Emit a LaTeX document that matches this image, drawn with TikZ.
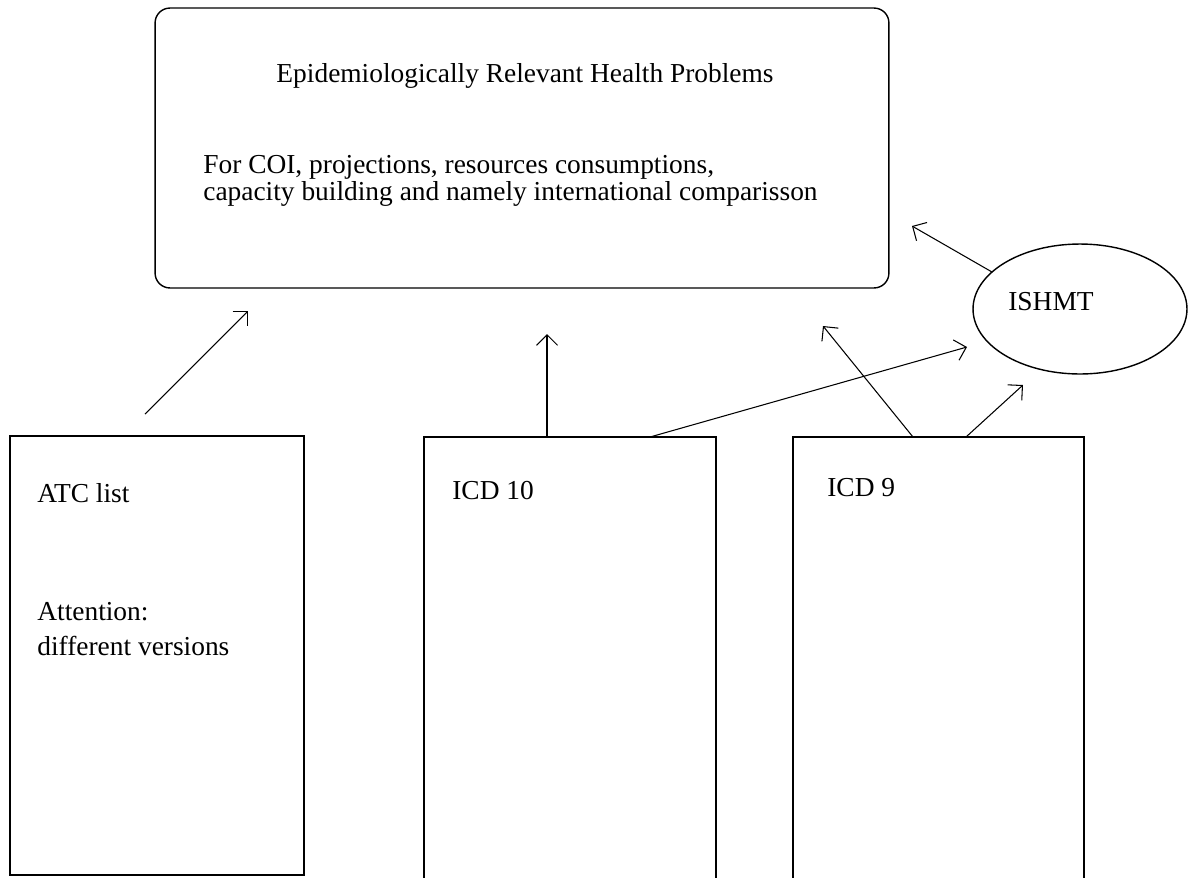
\documentclass[tikz,border=0pt]{standalone}
\usepackage{fontspec}
\setmainfont{Liberation Serif}
\usetikzlibrary{shapes.geometric,arrows.meta}

\begin{document}
\begin{tikzpicture}[x=0.02cm,y=-0.02cm,
  box/.style={draw,line width=0.8pt,inner sep=0pt,outer sep=0pt},
  txt/.style={anchor=base west,inner sep=0pt,font=\fontsize{15.6}{18}\selectfont},
  link/.style={line width=0.6pt,-{Straight Barb[length=6pt,width=12pt]}}]
  \clip (0,0) rectangle (1188,877);

  % Boxes
  \node[box,rounded corners=8.5pt,minimum width=14.68cm,minimum height=5.6cm] (erhp) at (522,148) {};
  \node[box,minimum width=5.88cm,minimum height=8.78cm] (atc) at (157,655.5) {};
  \node[box,minimum width=5.84cm,minimum height=9.26cm] (icdten) at (570,668.5) {};
  \node[box,minimum width=5.82cm,minimum height=9.26cm] (icdnine) at (938.5,668.5) {};
  \node[box,ellipse,minimum width=4.28cm,minimum height=2.6cm] (ishmt) at (1080,309) {};

  % Labels
  \node[txt,anchor=base] (title) at (525,82) {Epidemiologically Relevant Health Problems};
  \node[txt] (purposea) at (203,173) {For COI, projections, resources consumptions,};
  \node[txt] (purposeb) at (203,200) {capacity building and namely international comparisson};
  \node[txt] (atclabel) at (37,502) {ATC list};
  \node[txt] (attna) at (37,620) {Attention:};
  \node[txt] (attnb) at (37,655) {different versions};
  \node[txt] (icdtenlabel) at (452,499) {ICD 10};
  \node[txt] (icdninelabel) at (827,496) {ICD 9};
  \node[txt] (ishmtlabel) at (1008,310) {ISHMT};

  % Arrow ends
  \coordinate (atcup) at (145,414);
  \coordinate (erhpa) at (248,311);
  \coordinate (icdtena) at (547,437);
  \coordinate (erhpb) at (547,334);
  \coordinate (icdtenb) at (650,437);
  \coordinate (ishmta) at (967,347);
  \coordinate (icdninea) at (913,437);
  \coordinate (erhpc) at (823,326);
  \coordinate (icdnineb) at (966,437);
  \coordinate (ishmtb) at (1023,385);
  \coordinate (ishmtc) at (992,272);
  \coordinate (erhpd) at (912,226);

  % Arrows
  \draw[link] (atcup) -- (erhpa);
  \draw[link] (icdtena) -- (erhpb);
  \draw[link] (icdtenb) -- (ishmta);
  \draw[link] (icdninea) -- (erhpc);
  \draw[link] (icdnineb) -- (ishmtb);
  \draw[link] (ishmtc) -- (erhpd);
\end{tikzpicture}
\end{document}
